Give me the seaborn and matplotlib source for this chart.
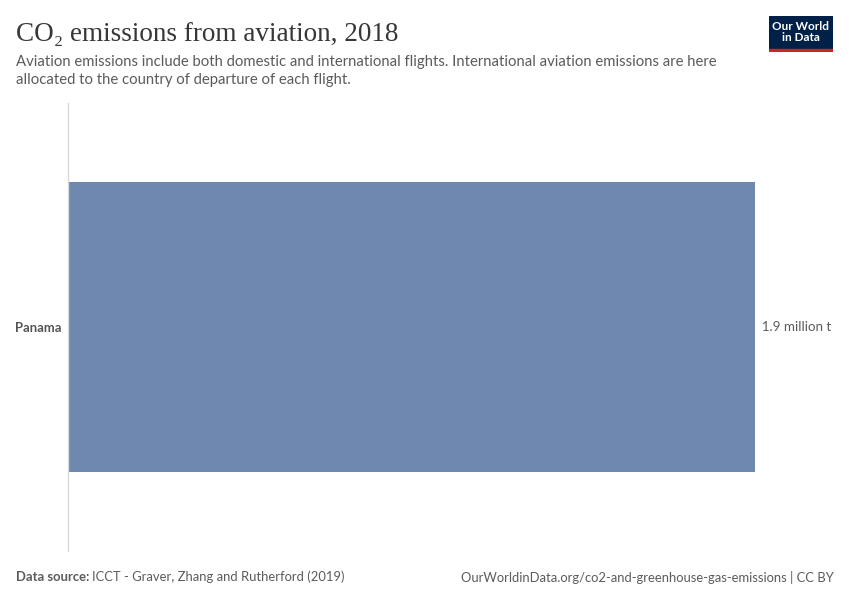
import matplotlib.pyplot as plt
import seaborn as sns
import pandas as pd
from matplotlib.patches import Rectangle

# Data
countries = ['Panama']
emissions = [1.9]  # million tonnes CO2
labels = ['1.9 million t']

df = pd.DataFrame({'Country': countries, 'Emissions': emissions})

sns.set_style("white")
plt.rcParams['font.family'] = ['Lato', 'DejaVu Sans']

fig = plt.figure(figsize=(8.5, 6), dpi=100)
ax = fig.add_axes([68 / 850, 1 - 551 / 600, (755 - 68) / 850, (551 - 103) / 600])

sns.barplot(data=df, x='Emissions', y='Country', ax=ax, color='#6f88b0',
            width=290 / 448, saturation=1, edgecolor='none')
ax.set_xlim(0, max(emissions))
ax.set_ylim(0.5, -0.5)
ax.set_xlabel('')
ax.set_ylabel('')
ax.set_xticks([])
for s in ['top', 'right', 'bottom']:
    ax.spines[s].set_visible(False)
ax.spines['left'].set_color('#dadada')
ax.spines['left'].set_linewidth(1)
ax.tick_params(axis='y', length=0, pad=5)
for t in ax.get_yticklabels():
    t.set_fontsize(9.4)
    t.set_fontweight('bold')
    t.set_color('#555555')

for i, (v, lab) in enumerate(zip(emissions, labels)):
    ax.text(v, i, '  ' + lab, va='center', ha='left', fontsize=9.6, color='#5b5b5b', clip_on=False)

# Title and subtitle
fig.text(16 / 850, 1 - 34 / 600, 'CO₂ emissions from aviation, 2018', fontsize=19.5,
         family=['Liberation Serif', 'DejaVu Serif'], color='#373737', va='center')
fig.text(16 / 850, 1 - 71 / 600,
         'Aviation emissions include both domestic and international flights. International aviation emissions are here\n'
         'allocated to the country of departure of each flight.',
         fontsize=10.7, color='#5b5b5b', va='center', linespacing=1.35)

# Logo
logo = fig.add_axes([769 / 850, 1 - 52 / 600, 64 / 850, 36 / 600])
logo.set_xlim(0, 1)
logo.set_ylim(0, 1)
logo.axis('off')
logo.add_patch(Rectangle((0, 0.07), 1, 0.93, color='#002147'))
logo.add_patch(Rectangle((0, 0), 1, 0.07, color='#ce261e'))
logo.text(0.5, 0.55, 'Our World\nin Data', ha='center', va='center', color='white',
          fontsize=8.5, fontweight='bold', linespacing=1.0)

# Footer
fig.text(16 / 850, 1 - 577 / 600, 'Data source:', fontsize=9.4, fontweight='bold', color='#5b5b5b', va='center')
fig.text(92 / 850, 1 - 577 / 600, 'ICCT - Graver, Zhang and Rutherford (2019)', fontsize=9.4, color='#5b5b5b', va='center')
fig.text(834 / 850, 1 - 577 / 600, 'OurWorldinData.org/co2-and-greenhouse-gas-emissions | CC BY',
         fontsize=9.4, color='#5b5b5b', va='center', ha='right')

plt.savefig('out.png', dpi=100)
